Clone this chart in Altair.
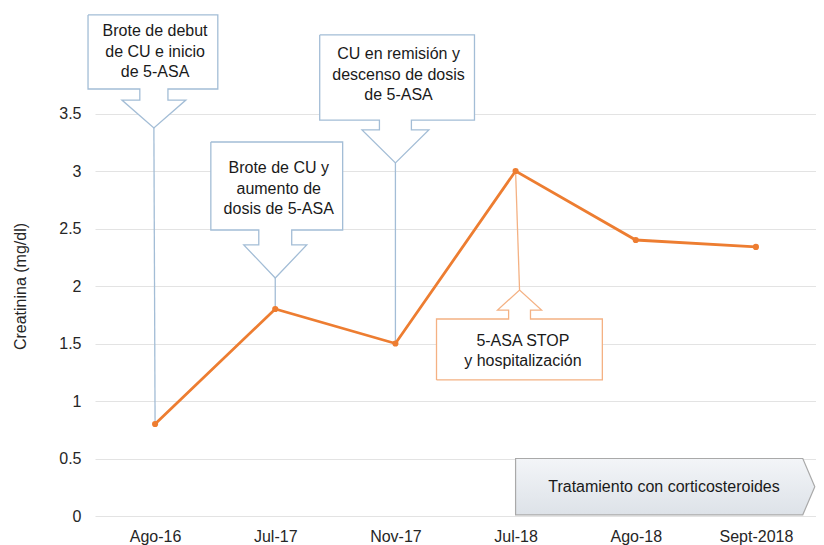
import json
import altair as alt
import pandas as pd

# ---------------- data ----------------
categories = ["Ago-16", "Jul-17", "Nov-17", "Jul-18", "Ago-18", "Sept-2018"]
creatinina = [0.8, 1.8, 1.5, 3.0, 2.4, 2.34]
y_ticks = [0, 0.5, 1, 1.5, 2, 2.5, 3, 3.5]

callout_texts = [
    "Brote de debut\nde CU e inicio\nde 5-ASA",
    "Brote de CU y\naumento de\ndosis de 5-ASA",
    "CU en remisión y\ndescenso de dosis\nde 5-ASA",
    "5-ASA STOP\ny hospitalización",
]
callout_anchor = [0, 1, 2, 3]
callout_dir = ["down", "down", "down", "up"]
callout_color = ["#a3bdd6", "#a3bdd6", "#a3bdd6", "#f4b183"]

# callout geometry (data units: x = category index, y = mg/dl)
box_left = [-0.558, 0.464, 1.370, 2.342]
box_right = [0.522, 1.561, 2.658, 3.722]
box_top = [4.357, 3.252, 4.183, 1.713]
box_bot = [3.713, 2.487, 3.443, 1.183]
arrow_x = [-0.01, 1.0, 2.0, 3.033]
neck_half = [0.117, 0.137, 0.133, 0.091]
wing_half = [0.266, 0.262, 0.278, 0.183]
neck_end = [3.617, 2.357, 3.357, 1.791]
apex_y = [3.374, 2.070, 3.070, 1.965]
text_x = [0.0, 1.029, 2.026, 3.061]
text_first_line_y = [4.217, 3.026, 4.017, 1.522]

treat_text = "Tratamiento con corticosteroides"
treat_x = [3.0, 5.39, 5.49]
treat_top = [0.5, 0.5, 0.255]
treat_bot = [0.01, 0.01, 0.255]
treat_label_x = [4.235]
treat_label_y = [0.252]

FONT = "Liberation Sans"

# ---------------- build tables ----------------
series = pd.DataFrame({"x": list(range(len(categories))), "y": creatinina, "cat": categories})

rect_rows, neck_rows, tri_rows, outline_rows, conn_rows, text_rows = [], [], [], [], [], []
for i in range(len(callout_texts)):
    ax, nh, wh = arrow_x[i], neck_half[i], wing_half[i]
    L, R, T, B = box_left[i], box_right[i], box_top[i], box_bot[i]
    ne, ap = neck_end[i], apex_y[i]
    c = callout_color[i]
    rect_rows.append(dict(id=i, x=L, x2=R, y=T, y2=B))
    if callout_dir[i] == "down":
        base = B
        pts = [(L, T), (R, T), (R, B), (ax + nh, B), (ax + nh, ne), (ax + wh, ne), (ax, ap),
               (ax - wh, ne), (ax - nh, ne), (ax - nh, B), (L, B), (L, T)]
    else:
        base = T
        pts = [(L, B), (R, B), (R, T), (ax + nh, T), (ax + nh, ne), (ax + wh, ne), (ax, ap),
               (ax - wh, ne), (ax - nh, ne), (ax - nh, T), (L, T), (L, B)]
    neck_rows.append(dict(id=i, x=ax - nh, x2=ax + nh, y=base, y2=ne))
    for xx, yy2 in [(ax - wh, ne), (ax, ap), (ax + wh, ne)]:
        tri_rows.append(dict(id=i, x=xx, y=ne, y2=yy2))
    for k, (px, py) in enumerate(pts):
        outline_rows.append(dict(id=i, k=k, x=px, y=py, c=c))
    a = callout_anchor[i]
    conn_rows.append(dict(id=i, x=ax, y=ap, x2=a, y2=creatinina[a], c=c))
    text_rows.append(dict(id=i, x=text_x[i], y=text_first_line_y[i], t=callout_texts[i]))

rects = pd.DataFrame(rect_rows)
necks = pd.DataFrame(neck_rows)
tris = pd.DataFrame(tri_rows)
outlines = pd.DataFrame(outline_rows)
conns = pd.DataFrame(conn_rows)
texts = pd.DataFrame(text_rows)
treat = pd.DataFrame({"x": treat_x, "y": treat_top, "y2": treat_bot})
treat_lbl = pd.DataFrame({"x": treat_label_x, "y": treat_label_y, "t": [treat_text]})

xs = alt.Scale(domain=[-0.5, 5.5], nice=False, zero=False)
ys = alt.Scale(domain=[0, 4], nice=False)

label_expr = json.dumps(categories) + "[datum.value]"

x_axis = alt.Axis(values=list(range(len(categories))), labelExpr=label_expr, grid=False,
                  domain=False, ticks=False, labelPadding=12, labelFontSize=16,
                  labelFont=FONT, labelColor="#262626", title=None)
y_axis = alt.Axis(values=y_ticks, format=".1~f", grid=True, gridColor="#e3e3e3",
                  gridWidth=1.2, domain=False, ticks=False, labelPadding=14,
                  labelFontSize=16, labelFont=FONT, labelColor="#262626",
                  title="Creatinina (mg/dl)", titleFont=FONT, titleFontSize=16,
                  titleFontWeight="normal", titleColor="#262626", titlePadding=30)


def X(f="x"):
    return alt.X(f"{f}:Q", scale=xs, axis=x_axis)


def Y(f="y"):
    return alt.Y(f"{f}:Q", scale=ys, axis=y_axis)


base_series = alt.Chart(series)

treat_area = alt.Chart(treat).mark_area(
    fill=alt.LinearGradient(gradient="linear",
                            stops=[alt.GradientStop(color="#f3f5f8", offset=0),
                                   alt.GradientStop(color="#dde2e8", offset=1)],
                            x1=0, x2=0, y1=0, y2=1),
    stroke="#a9a9a9", strokeWidth=1.2).encode(x=X(), y=Y(), y2="y2:Q")
treat_text_layer = alt.Chart(treat_lbl).mark_text(
    font=FONT, fontSize=16, color="#1a1a1a", align="center", baseline="middle").encode(
    x=X(), y=Y(), text="t:N")

conn_layer = alt.Chart(conns).mark_rule(strokeWidth=1.3).encode(
    x=X(), y=Y(), x2="x2:Q", y2="y2:Q", color=alt.Color("c:N", scale=None))

box_fill = alt.Chart(rects).mark_rect(fill="white").encode(x=X(), x2="x2:Q", y=Y(), y2="y2:Q")
neck_fill = alt.Chart(necks).mark_rect(fill="white").encode(x=X(), x2="x2:Q", y=Y(), y2="y2:Q")
tri_fill = alt.Chart(tris).mark_area(fill="white").encode(
    x=X(), y=Y(), y2="y2:Q", detail="id:N")
outline_layer = alt.Chart(outlines).mark_line(strokeWidth=1.3, strokeJoin="miter").encode(
    x=X(), y=Y(), order="k:Q", detail="id:N", color=alt.Color("c:N", scale=None))
text_layer = alt.Chart(texts).mark_text(
    font=FONT, fontSize=16, lineHeight=20.5, lineBreak="\n", color="#1a1a1a",
    align="center", baseline="middle").encode(x=X(), y=Y(), text="t:N")

line_layer = base_series.mark_line(color="#ED7D31", strokeWidth=2.8).encode(x=X(), y=Y())
pt_layer = base_series.mark_circle(color="#ED7D31", size=38, opacity=1).encode(x=X(), y=Y())

chart = alt.layer(
    treat_area, treat_text_layer, conn_layer, box_fill, neck_fill, tri_fill,
    outline_layer, text_layer, line_layer, pt_layer
).properties(
    width=721, height=460,
    background="white",
    autosize=alt.AutoSizeParams(type="none"),
    padding={"left": 87, "top": 48, "right": 0, "bottom": 29},
).configure_view(stroke=None)

chart.save("out.html", embed_options={"renderer": "svg", "actions": False})
